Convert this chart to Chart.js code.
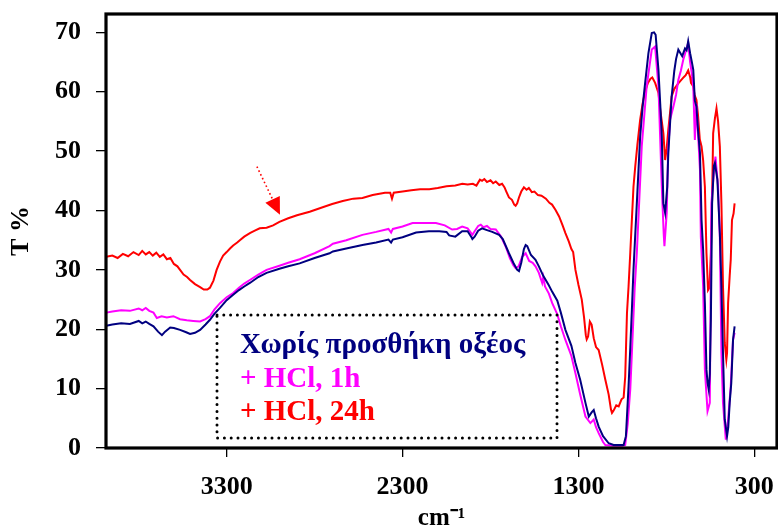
<!DOCTYPE html>
<html>
<head>
<meta charset="utf-8">
<script src="https://cdn.jsdelivr.net/npm/chart.js@4/dist/chart.umd.min.js"></script>
<style>
html,body{margin:0;padding:0;background:#fff;}
#c{display:block;}
</style>
</head>
<body>
<canvas id="c" width="778" height="529"></canvas>
<script>
// ---------- DATA ----------
const seriesLabels = ["Χωρίς προσθήκη οξέος", "+ HCl, 1h", "+ HCl, 24h"];
const seriesColors = ["#000080", "#FF00FF", "#FF0000"];
const xTickValues = [300, 1300, 2300, 3300];
const yTickValues = [0, 10, 20, 30, 40, 50, 60, 70];
const xTitle = "cm⁻¹";
const yTitle = "T %";

const navyWn = [3984,3950,3900,3850,3800,3780,3760,3740,3716,3690,3668,3650,3621,3600,3565,3530,3508,3480,3451,3420,3395,3370,3338,3300,3263,3230,3200,3168,3120,3073,3000,2950,2885,2800,2715,2696,2620,2528,2450,2380,2365,2355,2300,2223,2150,2091,2050,2035,2000,1961,1930,1910,1903,1890,1870,1848,1820,1790,1751,1730,1695,1670,1648,1638,1625,1610,1600,1591,1570,1544,1525,1500,1470,1449,1420,1400,1374,1340,1317,1290,1260,1241,1225,1213,1200,1185,1160,1128,1100,1060,1043,1030,1015,1005,996,987,968,949,935,921,902,883,870,861,845,835,826,817,807,795,789,770,755,745,732,720,710,694,685,676,665,655,647,638,629,620,609,600,591,581,572,566,559,553,547,540,530,524,510,496,487,478,468,455,448,440,431,421,412];
const navyT  = [20.6,20.8,21.0,20.9,21.4,21.0,21.3,20.9,20.5,19.6,19.0,19.6,20.3,20.2,19.9,19.5,19.2,19.4,19.9,20.8,21.6,22.6,23.6,24.9,25.8,26.6,27.2,27.8,28.8,29.5,30.2,30.6,31.1,32.0,32.8,33.1,33.6,34.2,34.6,35.1,34.6,35.1,35.5,36.3,36.5,36.5,36.4,35.8,35.6,36.5,36.5,35.6,35.2,35.6,36.6,37.0,36.7,36.4,35.9,35.2,32.8,31.2,30.0,29.8,31.2,33.5,34.2,34.0,32.5,31.7,30.6,29.0,27.5,26.3,24.8,22.8,19.9,17.2,14.3,11.5,7.6,5.3,6.0,6.4,5.0,3.6,2.0,0.8,0.5,0.5,0.5,2.0,10.4,17.0,23.3,30.0,41.2,52.5,57.5,61.4,66.5,69.9,70.0,69.6,63.7,58.0,52.5,41.2,39.6,44.0,49.7,59.2,63.5,65.5,67.1,66.5,66.0,67.3,67.0,68.5,66.5,65.0,63.7,58.5,57.5,53.5,49.7,38.4,33.4,24.4,13.2,11.0,9.8,12.5,21.6,41.2,47.5,48.0,45.2,36.2,27.2,16.0,4.8,2.0,3.5,7.6,10.9,18.2,20.5];

const magentaWn = [3984,3950,3900,3850,3800,3780,3760,3740,3716,3697,3670,3640,3603,3565,3527,3490,3451,3420,3395,3370,3338,3300,3263,3230,3200,3168,3120,3073,3000,2950,2885,2800,2715,2696,2620,2528,2450,2380,2365,2355,2300,2243,2180,2110,2060,2018,1990,1961,1930,1915,1903,1890,1870,1855,1840,1820,1800,1770,1740,1713,1690,1670,1657,1640,1620,1600,1580,1560,1544,1525,1506,1500,1490,1468,1449,1420,1400,1374,1340,1317,1290,1260,1232,1213,1200,1185,1160,1147,1100,1050,1034,1020,1005,996,980,968,940,912,883,864,845,835,826,815,811,798,790,779,760,745,732,718,704,690,676,665,655,647,638,629,620,609,604,591,581,566,553,544,530,521,506,496,487,478,462,449,434,421,412];
const magentaT  = [22.8,23.0,23.2,23.1,23.5,23.2,23.6,23.1,22.8,21.9,22.2,22.0,22.2,21.7,21.5,21.4,21.3,21.7,22.2,23.3,24.4,25.4,26.1,27.0,27.7,28.3,29.2,30.0,30.7,31.2,31.8,32.8,34.0,34.4,35.0,35.9,36.4,36.9,36.3,36.9,37.3,37.9,37.9,37.9,37.5,36.8,36.9,37.3,37.0,36.4,35.9,36.5,37.4,37.6,37.2,37.4,36.9,36.8,35.6,33.9,32.0,30.8,30.3,30.6,32.2,32.8,31.5,31.2,30.6,29.5,27.8,28.8,27.2,26.0,24.4,22.5,20.5,18.2,15.5,12.6,9.0,5.3,4.2,4.8,3.5,2.5,1.0,0.5,0.4,0.4,0.5,4.0,10.0,16.0,27.0,32.8,50.8,60.9,67.1,67.6,60.9,52.0,44.0,36.0,34.0,39.6,50.0,55.3,57.5,59.5,62.0,63.5,65.4,66.8,68.2,65.0,63.0,60.9,51.9,58.0,53.0,46.9,35.6,27.2,13.2,6.2,7.6,41.2,46.5,49.1,44.0,35.6,16.0,7.6,1.4,4.8,10.4,18.2,19.4];

const redWn = [3984,3950,3920,3890,3860,3830,3800,3780,3760,3740,3720,3700,3680,3660,3640,3620,3600,3580,3565,3545,3525,3508,3480,3451,3430,3410,3395,3375,3357,3338,3320,3300,3281,3263,3240,3225,3200,3168,3140,3112,3073,3036,3000,2950,2900,2828,2750,2700,2640,2580,2528,2470,2400,2370,2360,2350,2300,2250,2200,2148,2100,2050,2000,1960,1930,1900,1880,1860,1848,1835,1820,1800,1785,1770,1750,1734,1720,1710,1695,1678,1665,1657,1648,1638,1625,1610,1595,1582,1565,1550,1530,1510,1485,1465,1450,1430,1410,1390,1374,1355,1340,1330,1317,1300,1281,1268,1258,1253,1245,1235,1225,1213,1200,1185,1165,1147,1128,1115,1109,1100,1085,1071,1055,1043,1034,1024,1015,1005,996,987,977,965,949,935,921,905,890,880,864,845,835,826,817,807,798,789,779,770,755,732,715,700,690,676,665,660,647,640,629,620,610,600,591,581,572,563,555,547,540,534,524,515,506,496,487,478,468,459,455,449,440,434,427,418,412];
const redT  = [32.2,32.4,32.0,32.7,32.3,33.0,32.5,33.2,32.6,33.0,32.4,32.9,32.2,32.6,31.8,32.0,31.0,30.6,30.0,29.2,28.8,28.3,27.6,27.1,26.7,26.7,27.0,28.2,30.0,31.4,32.4,33.0,33.6,34.1,34.6,35.0,35.6,36.2,36.6,37.0,37.1,37.5,38.1,38.7,39.2,39.8,40.6,41.1,41.6,42.0,42.1,42.6,43.0,43.0,42.0,43.0,43.2,43.4,43.6,43.6,43.8,44.1,44.2,44.5,44.4,44.5,44.2,45.2,45.0,45.3,44.8,45.1,44.6,44.9,44.3,44.5,43.9,43.2,42.2,41.8,41.0,40.8,41.2,42.2,43.2,43.9,43.5,43.8,43.1,43.2,42.6,42.5,42.0,41.3,41.0,40.1,39.0,37.5,36.2,34.8,33.5,33.0,30.0,27.5,25.0,22.0,19.0,18.3,18.8,21.3,20.8,18.5,17.0,16.5,14.0,11.5,9.0,6.5,5.9,6.3,7.2,7.0,8.2,8.5,12.0,22.7,27.2,33.0,38.5,44.0,47.4,51.0,55.3,58.0,60.0,61.5,62.2,62.4,61.5,59.8,57.0,55.0,53.0,48.5,50.5,53.6,56.5,59.2,60.5,61.4,62.0,62.5,62.8,63.6,62.5,61.5,60.9,59.5,58.6,56.0,52.0,50.8,48.5,44.0,32.8,26.6,27.0,32.9,42.0,53.0,55.5,57.2,55.0,50.8,41.2,27.2,17.7,14.9,16.0,24.4,29.0,31.7,38.4,39.5,41.2];

// annotation arrow (tail -> tip), in data units [wavenumber, T%]
const arrowTail = [3128, 47.4];
const arrowTip = [2997, 39.3];

// ---------- BUILD ----------
function pts(wn, t){ return wn.map((w,i)=>({x:w, y:t[i]})); }
const seriesData = [pts(navyWn,navyT), pts(magentaWn,magentaT), pts(redWn,redT)];

const serif = "'Liberation Serif','Times New Roman',Times,serif";

const framePlugin = {
  id: 'frame',
  afterDatasetsDraw(chart){
    const {ctx, chartArea:a, scales} = chart;
    ctx.save();
    // arrow
    const x0 = scales.x.getPixelForValue(arrowTail[0]), y0 = scales.y.getPixelForValue(arrowTail[1]);
    const x1 = scales.x.getPixelForValue(arrowTip[0]), y1 = scales.y.getPixelForValue(arrowTip[1]);
    const ang = Math.atan2(y1-y0, x1-x0);
    const headLen = 17, headW = 8;
    const bx = x1 - headLen*Math.cos(ang), by = y1 - headLen*Math.sin(ang);
    ctx.strokeStyle = '#FF0000'; ctx.fillStyle = '#FF0000';
    ctx.lineWidth = 1.6; ctx.setLineDash([1.6,2.6]); ctx.lineCap='butt';
    ctx.beginPath(); ctx.moveTo(x0,y0); ctx.lineTo(bx,by); ctx.stroke();
    ctx.setLineDash([]);
    ctx.beginPath();
    ctx.moveTo(x1,y1);
    ctx.lineTo(bx + headW*Math.sin(ang), by - headW*Math.cos(ang));
    ctx.lineTo(bx - headW*Math.sin(ang), by + headW*Math.cos(ang));
    ctx.closePath(); ctx.fill();

    // legend box
    const lx = a.left + 111, ly = a.top + 301, lw = 340, lh = 123;
    ctx.strokeStyle = '#000'; ctx.lineWidth = 3; ctx.lineCap = 'round';
    ctx.setLineDash([0, 6.8]);
    ctx.strokeRect(lx, ly, lw, lh);
    ctx.setLineDash([]);
    ctx.font = "bold 29px " + serif;
    ctx.textBaseline = 'alphabetic'; ctx.textAlign = 'left';
    const baselines = [38, 72, 105];
    chart.data.datasets.forEach((ds,i)=>{
      ctx.fillStyle = ds.borderColor;
      ctx.fillText(ds.label, lx + 23, ly + baselines[i]);
    });

    // frame
    ctx.lineCap = 'butt';
    ctx.strokeStyle = '#000'; ctx.lineWidth = 3.2;
    ctx.strokeRect(a.left, a.top, a.right - a.left, a.bottom - a.top);
    ctx.restore();
  }
};

new Chart(document.getElementById('c'), {
  type: 'line',
  data: {
    datasets: seriesData.map((d,i)=>({
      label: seriesLabels[i],
      data: d,
      borderColor: seriesColors[i],
      backgroundColor: seriesColors[i],
      borderWidth: 2,
      pointRadius: 0,
      tension: 0,
      fill: false
    }))
  },
  options: {
    responsive: false,
    animation: false,
    devicePixelRatio: 1,
    layout: { padding: { top: 14, right: 1, left: 0, bottom: 0 } },
    plugins: { legend: { display: false }, tooltip: { enabled: false } },
    scales: {
      x: {
        type: 'linear',
        reverse: true,
        min: 171, max: 3986,
        afterBuildTicks(s){ s.ticks = xTickValues.map(v=>({value:v})); },
        afterFit(s){ s.height = 81; s.paddingLeft = 0; s.paddingRight = 0; },
        ticks: { font: { family: serif, weight: 'bold', size: 26 }, color: '#000', padding: 15, maxRotation: 0, autoSkip: false,
                 callback: (v)=>String(v) },
        grid: { drawOnChartArea: false, drawTicks: true, tickLength: 9, color: '#000', lineWidth: 1.3 },
        border: { display: false },
        title: { display: true, text: xTitle, color: '#000', font: { family: serif, weight: 'bold', size: 25, lineHeight: 0.8 }, padding: { top: 0, bottom: 0 } }
      },
      y: {
        type: 'linear',
        min: 0, max: 73.1,
        afterBuildTicks(s){ s.ticks = yTickValues.map(v=>({value:v})); },
        afterFit(s){ s.width = 106; s.paddingTop = 0; s.paddingBottom = 0; },
        ticks: { font: { family: serif, weight: 'bold', size: 26 }, color: '#000', padding: 15, callback: (v)=>String(v) },
        grid: { drawOnChartArea: false, drawTicks: true, tickLength: 10, color: '#000', lineWidth: 1.3 },
        border: { display: false },
        title: { display: true, text: yTitle, color: '#000', font: { family: serif, weight: 'bold', size: 26 }, padding: { top: 6, bottom: 0 } }
      }
    }
  },
  plugins: [framePlugin]
});
</script>
</body>
</html>
